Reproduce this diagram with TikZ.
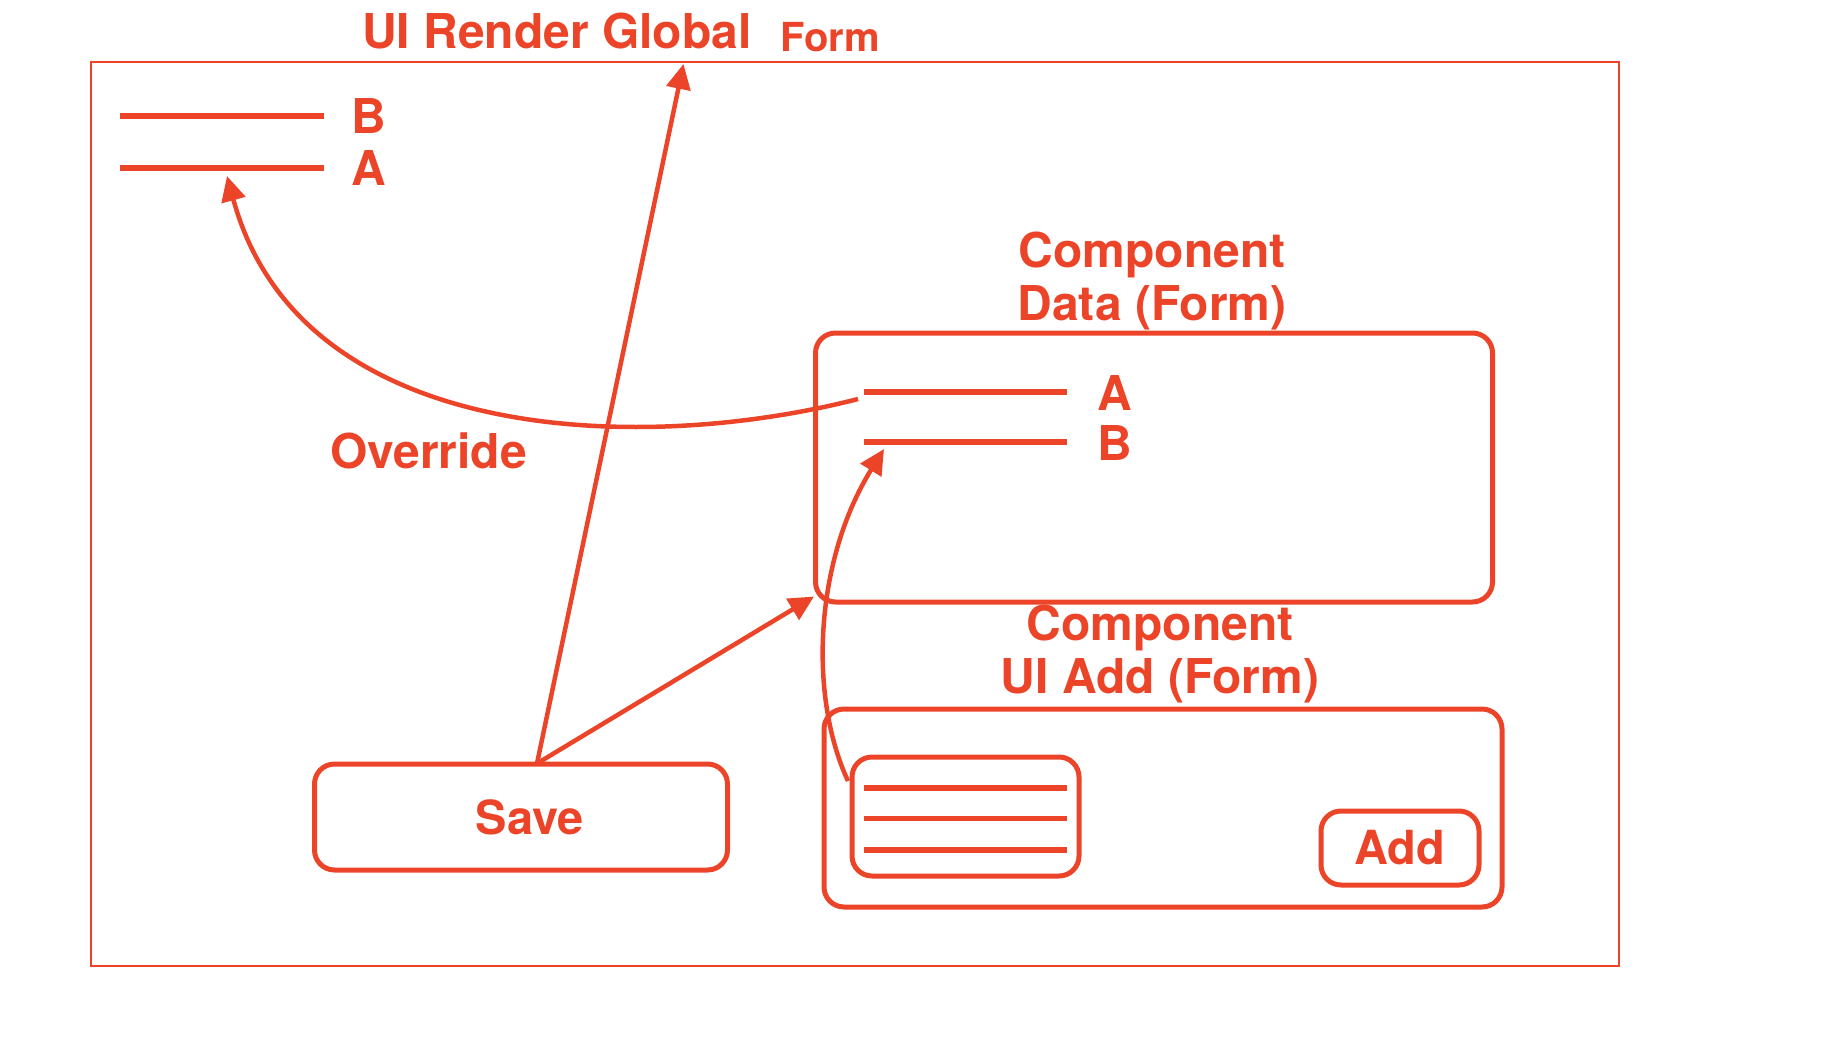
\documentclass[tikz,border=0pt]{standalone}
\usepackage{fontspec}
\setmainfont{TeX Gyre Heros}
\usetikzlibrary{arrows.meta,calc}
\definecolor{ink}{RGB}{235,68,40}
\begin{document}
\begin{tikzpicture}[x=1pt,y=-1pt,
  box/.style={draw=ink, line width=5pt, rounded corners=20pt, inner sep=0pt, text=ink,
    font=\bfseries\fontsize{47}{52}\selectfont},
  lbl/.style={text=ink, font=\bfseries\fontsize{48}{53}\selectfont, inner sep=0pt},
  conn/.style={draw=ink, line width=4.5pt, -{Triangle[length=25pt,width=24pt]}},
  bar/.style={draw=ink, line width=5.5pt}]
\useasboundingbox (0,0) rectangle (1830,1054);

% outer frame
\node[draw=ink, line width=2.5pt, minimum width=1528pt, minimum height=904pt, inner sep=0pt] (frame) at (855,514) {};

% title
\node[lbl, anchor=base west] (title) at (362,49) {UI Render Global};
\node[lbl, anchor=base west, font=\bfseries\fontsize{40}{46}\selectfont] (form) at (780,52) {Form};

% top-left global form fields
\coordinate (gB1) at (120,116);  \coordinate (gB2) at (324,116);
\coordinate (gA1) at (120,168);  \coordinate (gA2) at (324,168);
\draw[bar] (gB1) -- (gB2);
\draw[bar] (gA1) -- (gA2);
\node[lbl, anchor=base west] (gBl) at (351,133) {B};
\node[lbl, anchor=base west] (gAl) at (351,185) {A};

% component data (form)
\node[lbl, align=center, anchor=base] (datalbl) at (1152,320) {Component\\Data (Form)};
\node[box, minimum width=677pt, minimum height=269pt] (data) at (1154,467.5) {};
\coordinate (dA1) at (864,392); \coordinate (dA2) at (1067,392);
\coordinate (dB1) at (864,442); \coordinate (dB2) at (1067,442);
\draw[bar] (dA1) -- (dA2);
\draw[bar] (dB1) -- (dB2);
\node[lbl, anchor=base west] (dAl) at (1097,410) {A};
\node[lbl, anchor=base west] (dBl) at (1097,460) {B};

% component UI add (form)
\node[lbl, align=center, anchor=base] (addlbl) at (1160,693) {Component\\UI Add (Form)};
\node[box, minimum width=678pt, minimum height=198pt] (uiadd) at (1163,808) {};
\node[box, minimum width=227pt, minimum height=119pt] (list) at (965.5,816.5) {};
\draw[bar] (864,788) -- (1067,788);
\draw[bar] (864,818.5) -- (1067,818.5);
\draw[bar] (864,850) -- (1067,850);
\node[box, minimum width=158pt, minimum height=74pt] (add) at (1400,848) {Add};

% save button
\node[box, minimum width=413pt, minimum height=106pt] (save) at (521,817) {\hspace*{18pt}Save};

% connectors
\node[lbl, anchor=base west] (override) at (330,468) {Override};
\coordinate (saveout) at (537,763.5);
\coordinate (globaltop) at (683.5,64);
\coordinate (ovstart) at (858,399);
\coordinate (liststart) at (848,781);
\coordinate (dBtip) at (884,449);
\coordinate (gAtip) at (227,176);

\draw[conn] (saveout) -- (globaltop);
\draw[conn] (saveout) -- ($(data.south west)+(1,-8)$);
\draw[conn] (ovstart) .. controls (640,455) and (300,445) .. (gAtip);
\draw[conn] (liststart) .. controls (808,695) and (815,560) .. (dBtip);
\end{tikzpicture}
\end{document}
